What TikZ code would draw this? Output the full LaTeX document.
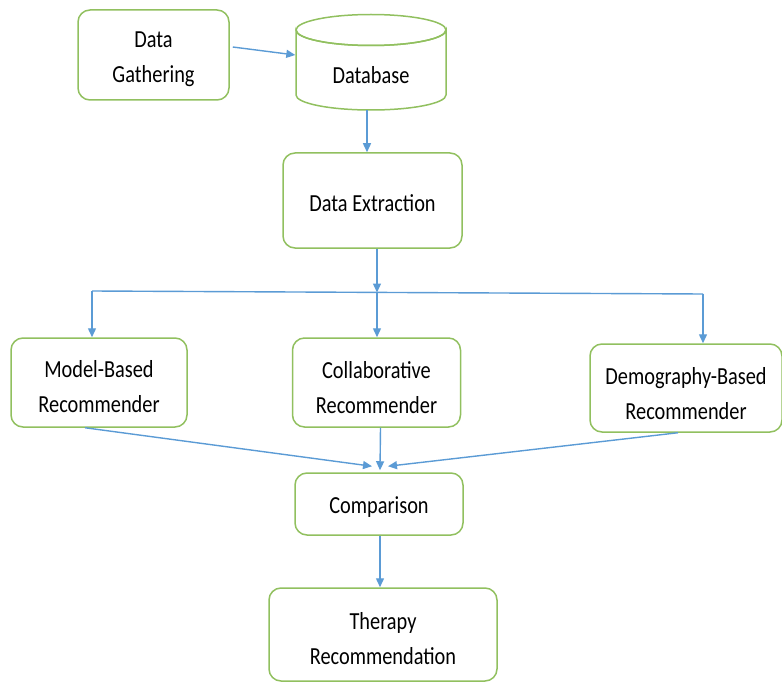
\documentclass[tikz,border=0pt]{standalone}
\usepackage{fontspec}
\setmainfont[FakeStretch=0.83]{Carlito}
\usetikzlibrary{arrows.meta}
\definecolor{boxgreen}{RGB}{145,192,95}
\definecolor{arrowblue}{RGB}{91,155,213}
\begin{document}
\begin{tikzpicture}[x=1pt,y=-1pt,
  txt/.style={align=center, font=\fontsize{24.5}{35}\selectfont, inner sep=0pt},
  box/.style={draw=boxgreen, line width=1.5pt, rounded corners=12pt, fill=white, inner sep=0pt},
  plainline/.style={draw=arrowblue, line width=1.4pt},
  arr/.style={plainline, -{Triangle[length=9pt,width=8pt]}}]
\useasboundingbox (0,0) rectangle (782,682);
% nodes
\node[box, minimum width=151pt, minimum height=90pt,
  label={[txt, yshift=-4.5pt]center:Data\\Gathering}] (gather) at (153.5,55) {};
\node[minimum width=151pt, minimum height=98pt, inner sep=0pt] (db) at (371,61) {};
\draw[boxgreen, line width=1.5pt, fill=white]
  (296,30) -- (296,95) arc[start angle=180, end angle=0, x radius=75, y radius=15]
  -- (446,30) arc[start angle=0, end angle=180, x radius=75, y radius=15.5] -- cycle;
\draw[boxgreen, line width=1.5pt] (371,30) ellipse[x radius=75, y radius=15.5];
\node[txt] (dbtext) at (371,75) {Database};
\node[box, minimum width=179pt, minimum height=95pt,
  label={[txt, yshift=-3pt]center:Data Extraction}] (extract) at (372.5,200.5) {};
\node[box, minimum width=176pt, minimum height=89pt,
  label={[txt, yshift=-4.5pt]center:Model-Based\\Recommender}] (model) at (99,382.5) {};
\node[box, minimum width=168pt, minimum height=89pt,
  label={[txt, yshift=-5pt]center:Collaborative\\Recommender}] (collab) at (376.5,382.5) {};
\node[box, minimum width=192pt, minimum height=88pt,
  label={[txt, yshift=-5.5pt]center:Demography-Based\\Recommender}] (demo) at (686,388) {};
\node[box, minimum width=168pt, minimum height=62pt,
  label={[txt, yshift=-3pt]center:Comparison}] (comp) at (379,504) {};
\node[box, minimum width=228pt, minimum height=93pt,
  label={[txt, yshift=-4pt]center:Therapy\\Recommendation}] (therapy) at (383,634.5) {};
% connectors
\draw[arr] ([xshift=3pt,yshift=8pt]gather.east) -- ([yshift=6pt]db.west);
\draw[arr] ([xshift=-4pt]db.south) -- ([xshift=-4pt]db.south |- extract.north);
\coordinate (sL) at (92,291);
\coordinate (sM) at (377,292.5);
\coordinate (sR) at (703,294);
\draw[plainline] (sL) -- (sR);
\draw[arr] (sM |- extract.south) -- (sM);
\draw[arr] (sM) -- (sM |- collab.north);
\draw[arr] (sL) -- (sL |- model.north);
\draw[arr] (sR) -- (sR |- demo.north);
\draw[arr] ([xshift=-14pt]model.south) -- ([xshift=-7pt,yshift=6pt]comp.north);
\draw[arr] ([xshift=4pt]collab.south) -- ([xshift=1pt,yshift=2pt]comp.north);
\draw[arr] ([xshift=-8pt]demo.south) -- ([xshift=9pt,yshift=6pt]comp.north);
\draw[arr] ([xshift=1pt]comp.south) -- ([xshift=1pt]comp.south |- therapy.north);
\end{tikzpicture}
\end{document}
